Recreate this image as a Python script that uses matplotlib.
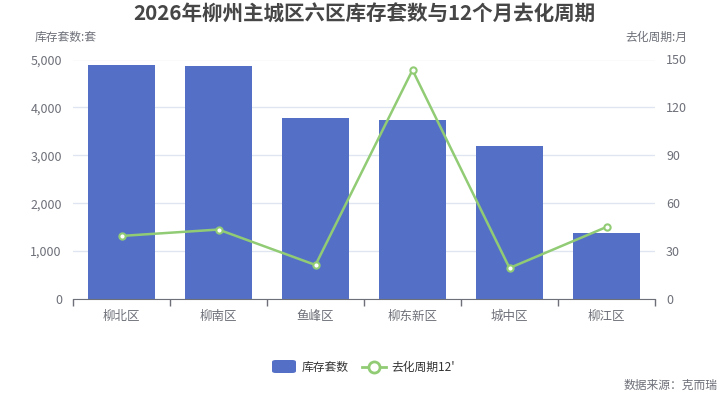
import matplotlib
matplotlib.use("Agg")
import matplotlib.pyplot as plt
from matplotlib.patches import FancyBboxPatch
from matplotlib.lines import Line2D
from matplotlib.ticker import FuncFormatter, FixedLocator

plt.rcParams['font.family'] = ['Noto Sans CJK SC', 'DejaVu Sans']

categories = ["柳北区", "柳南区", "鱼峰区", "柳东新区", "城中区", "柳江区"]
inventory = [4890, 4860, 3770, 3730, 3190, 1380]
cycle = [39.5, 43.5, 21.3, 143.4, 19.4, 45.1]

title = "2026年柳州主城区六区库存套数与12个月去化周期"
left_name = "库存套数:套"
right_name = "去化周期:月"
legend_bar = "库存套数"
legend_line = "去化周期12'"
source = "数据来源：克而瑞"

BAR = "#5470C6"
LINE = "#91CC75"
AX = "#6E7079"
GRID = "#E0E6F1"

W, H = 728, 400
fig = plt.figure(figsize=(W / 100, H / 100), dpi=100)
L, R, T, B = 73, 655, 59.5, 299
ax = fig.add_axes([L / W, 1 - B / H, (R - L) / W, (B - T) / H])
ax2 = ax.twinx()

x = list(range(len(categories)))
ax.bar(x, inventory, width=0.69, color=BAR, zorder=2)
ax.set_xlim(-0.5, len(categories) - 0.5)
ax.set_ylim(0, 5000)
ax.set_yticks([0, 1000, 2000, 3000, 4000, 5000])
ax.yaxis.set_major_formatter(FuncFormatter(lambda v, p: f"{int(v):,}"))
ax.grid(axis='y', color=GRID, linewidth=1, zorder=0)
ax.set_axisbelow(True)
ax.set_xticks(x)
ax.set_xticklabels(categories)
ax.xaxis.set_minor_locator(FixedLocator([i - 0.5 for i in range(len(categories) + 1)]))
ax.tick_params(axis='x', which='major', length=0, pad=8, labelsize=9, labelcolor=AX)
ax.tick_params(axis='x', which='minor', length=5, color=AX, width=1)
ax.tick_params(axis='y', length=0, pad=8, labelsize=9, labelcolor=AX)
for s in ['top', 'right', 'left']:
    ax.spines[s].set_visible(False)
ax.spines['bottom'].set_color(AX)

ax2.plot(x, cycle, color=LINE, linewidth=1.8, marker='o', markersize=4.5,
         markerfacecolor='white', markeredgecolor=LINE, markeredgewidth=1.5, zorder=3)
ax2.set_ylim(0, 150)
ax2.set_yticks([0, 30, 60, 90, 120, 150])
ax2.tick_params(axis='y', length=0, pad=8, labelsize=9, labelcolor=AX)
for s in ['top', 'right', 'left', 'bottom']:
    ax2.spines[s].set_visible(False)

fig.text(364 / W, 1 - 14 / H, title, ha='center', va='center', fontsize=14.8,
         fontweight='bold', color='#464646')
fig.text(66 / W, 1 - 37 / H, left_name, ha='center', va='center', fontsize=8.5, color=AX)
fig.text(687 / W, 1 - 37 / H, right_name, ha='right', va='center', fontsize=8.5, color=AX)
fig.text(718 / W, 1 - 385 / H, source, ha='right', va='center', fontsize=8.5, color=AX)

# legend
ly = 1 - 367 / H
fig.patches.append(FancyBboxPatch((272 / W, 1 - 373 / H), 24 / W, 13 / H,
                                  boxstyle="round,pad=0,rounding_size=0.005",
                                  transform=fig.transFigure, facecolor=BAR, edgecolor='none'))
fig.text(302 / W, ly, legend_bar, ha='left', va='center', fontsize=8.5, color='#333333')
fig.lines.append(Line2D([362 / W, 386 / W], [ly, ly], transform=fig.transFigure,
                        color=LINE, linewidth=2))
fig.lines.append(Line2D([374 / W], [ly], transform=fig.transFigure, marker='o',
                        markersize=8, markerfacecolor='white', markeredgecolor=LINE,
                        markeredgewidth=2, linestyle='none'))
fig.text(391 / W, ly, legend_line, ha='left', va='center', fontsize=8.5, color='#333333')

fig.savefig("out.png", dpi=100)
